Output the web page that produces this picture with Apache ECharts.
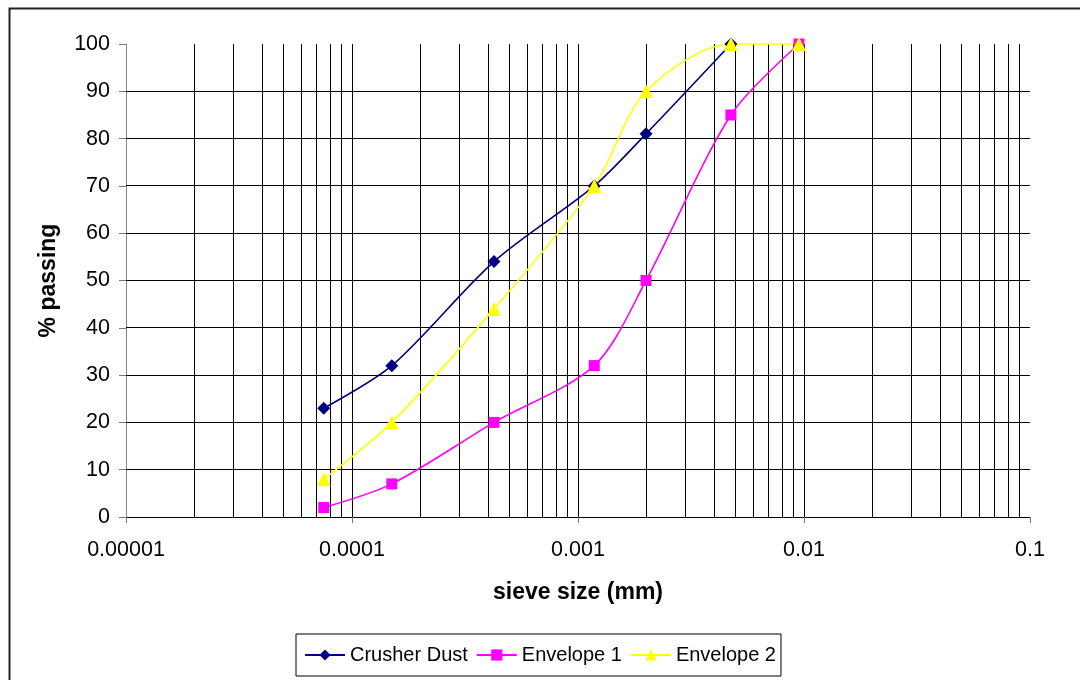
<!DOCTYPE html>
<html>
<head>
<meta charset="utf-8">
<script src="https://cdn.jsdelivr.net/npm/echarts@6/dist/echarts.min.js"></script>
<style>
html,body{margin:0;padding:0;background:#fff;}
#chart{width:1080px;height:680px;}
</style>
</head>
<body>
<div id="chart"></div>
<script>
// sieve sizes (as labelled on the axis)
const sieveSizes = [0.000075, 0.00015, 0.000425, 0.00118, 0.002, 0.00475, 0.0095];
const crusherDust = [23, 32, 54, 70, 81, 100];
const envelope1 = [2, 7, 20, 32, 50, 85, 100];
const envelope2 = [8, 20, 44, 70, 90, 100, 100];
const seriesNames = ['Crusher Dust', 'Envelope 1', 'Envelope 2'];
const xTickValues = [0.00001, 0.0001, 0.001, 0.01, 0.1];
const xTickLabels = ['0.00001', '0.0001', '0.001', '0.01', '0.1'];
const yTicks = [0, 10, 20, 30, 40, 50, 60, 70, 80, 90, 100];
// log-grid multipliers per decade
const gridMultipliers = [1, 2, 3, 4, 5, 6, 7, 8, 9];
const gridDecades = [0.00001, 0.0001, 0.001, 0.01];

const FONT = 'Arial, "Liberation Sans", sans-serif';
const X_MIN = xTickValues[0], X_MAX = xTickValues[xTickValues.length - 1];
const Y_MIN = yTicks[0], Y_MAX = yTicks[yTicks.length - 1];

function pairs(xs, ys) { return ys.map((y, i) => [xs[i], y]); }
function crisp(v) { return Math.round(v - 0.5) + 0.5; }

const vGrid = [];
gridDecades.forEach(d => gridMultipliers.forEach(m => {
  const v = +(d * m).toPrecision(3);
  if (v > X_MIN) vGrid.push([v, Y_MIN]);
}));
const hGrid = yTicks.filter(v => v > Y_MIN && v < Y_MAX).map(v => [X_MIN, v]);

const chart = echarts.init(document.getElementById('chart'), null, { renderer: 'canvas' });
chart.setOption({
  animation: false,
  backgroundColor: '#fff',
  textStyle: { fontFamily: FONT, color: '#000' },
  graphic: [{
    type: 'rect', left: 7, top: 6, silent: true,
    shape: { width: 1200, height: 1000 },
    style: { fill: 'none', stroke: '#222', lineWidth: 2 }
  }],
  grid: { left: 126, right: 50, top: 44, bottom: 163, containLabel: false },
  xAxis: {
    type: 'log', logBase: 10, min: X_MIN, max: X_MAX, interval: 1,
    name: 'sieve size (mm)', nameLocation: 'middle', nameGap: 64,
    nameTextStyle: { fontSize: 23, fontWeight: 'bold', color: '#000', fontFamily: FONT },
    axisLine: { show: true, onZero: false, lineStyle: { color: '#000', width: 1 } },
    axisTick: { show: true, length: 6, lineStyle: { color: '#777' } },
    axisLabel: {
      fontSize: 21.5, color: '#000', margin: 22, fontFamily: FONT,
      formatter: (v) => {
        const i = xTickValues.findIndex(t => Math.abs(Math.log10(t) - Math.log10(v)) < 1e-6);
        return i >= 0 ? xTickLabels[i] : '';
      }
    },
    splitLine: { show: false }, minorTick: { show: false }
  },
  yAxis: {
    type: 'value', min: Y_MIN, max: Y_MAX, interval: 10,
    name: '% passing', nameLocation: 'middle', nameGap: 66, nameRotate: 90,
    nameTextStyle: { fontSize: 23, fontWeight: 'bold', color: '#000', fontFamily: FONT },
    axisLine: { show: true, lineStyle: { color: '#888', width: 1 } },
    axisTick: { show: true, length: 7, lineStyle: { color: '#777' } },
    axisLabel: { fontSize: 21.5, color: '#000', margin: 16, fontFamily: FONT },
    splitLine: { show: false }
  },
  legend: {
    data: seriesNames, orient: 'horizontal', left: 296, top: 634,
    borderColor: '#000', borderWidth: 1, padding: [11, 5, 11, 8],
    itemWidth: 40, itemHeight: 14, itemGap: 8,
    textStyle: { fontSize: 20, color: '#000', fontFamily: FONT }
  },
  series: [
    {
      name: 'vgrid', type: 'custom', silent: true, data: vGrid,
      encode: { x: 0, y: 1 },
      renderItem: (params, api) => {
        const v = api.value(0);
        const p1 = api.coord([v, Y_MIN]), p2 = api.coord([v, Y_MAX]);
        const x = crisp(p1[0]);
        return { type: 'line', shape: { x1: x, y1: p1[1], x2: x, y2: p2[1] },
                 style: { stroke: '#000', lineWidth: 1 } };
      }
    },
    {
      name: 'hgrid', type: 'custom', silent: true, data: hGrid,
      encode: { x: 0, y: 1 },
      renderItem: (params, api) => {
        const v = api.value(1);
        const p1 = api.coord([X_MIN, v]), p2 = api.coord([X_MAX, v]);
        const y = crisp(p1[1]);
        return { type: 'line', shape: { x1: p1[0], y1: y, x2: p2[0], y2: y },
                 style: { stroke: '#000', lineWidth: 1 } };
      }
    },
    {
      name: seriesNames[0], type: 'line', smooth: 0.3,
      data: pairs(sieveSizes, crusherDust),
      symbol: 'diamond', symbolSize: 13,
      itemStyle: { color: '#000080' }, lineStyle: { color: '#000080', width: 1.6 }
    },
    {
      name: seriesNames[1], type: 'line', smooth: 0.3,
      data: pairs(sieveSizes, envelope1),
      symbol: 'rect', symbolSize: 11,
      itemStyle: { color: '#ff00ff' }, lineStyle: { color: '#ff00ff', width: 1.6 }
    },
    {
      name: seriesNames[2], type: 'line', smooth: 0.3,
      data: pairs(sieveSizes, envelope2),
      symbol: 'triangle', symbolSize: 14,
      itemStyle: { color: '#ffff00' }, lineStyle: { color: '#ffff00', width: 1.6 }
    }
  ]
});
</script>
</body>
</html>
